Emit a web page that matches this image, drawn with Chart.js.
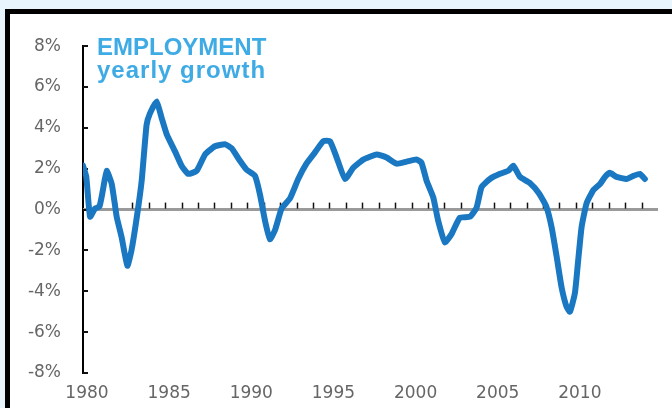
<!DOCTYPE html>
<html>
<head>
<meta charset="utf-8">
<script src="https://cdn.jsdelivr.net/npm/chart.js@4"></script>
<style>
    html, body { margin: 0; padding: 0; }
    body { width: 672px; height: 408px; background: #e9f5fc; position: relative; overflow: hidden; }
    .frame {
        position: absolute; left: 5px; top: 9px; width: 700px; height: 420px;
        border-top: 5px solid #000; border-left: 5px solid #000; background: #fff;
    }
    .chart-box { position: absolute; left: 10px; top: 14px; width: 662px; height: 394px; }
    .title {
        position: absolute; left: 97px; color: #3fabe5;
        font-family: "Liberation Sans", Arial, sans-serif; font-weight: bold; font-size: 24px; line-height: 24px;
    }
    #t1 { top: 35px; }
    #t2 { top: 58px; letter-spacing: 1px; }
</style>
</head>
<body>
<div class="frame"></div>
<div class="chart-box"><canvas id="chart"></canvas></div>
<div class="title" id="t1">EMPLOYMENT</div>
<div class="title" id="t2">yearly growth</div>

<script>
// ============ Data ============
const YEARS = [
    1980.0, 1980.2, 1980.43, 1980.73, 1981.0, 1981.2, 1981.44, 1981.75, 1982.05, 1982.35,
    1982.7, 1982.95, 1983.27, 1983.57, 1983.87, 1984.07, 1984.48, 1984.78, 1985.09, 1985.6,
    1986.0, 1986.4, 1986.92, 1987.43, 1988.03, 1988.64, 1989.05, 1989.5, 1989.96, 1990.47,
    1990.77, 1991.08, 1991.38, 1991.69, 1992.09, 1992.6, 1993.1, 1993.6, 1994.12, 1994.63,
    1995.03, 1995.44, 1995.95, 1996.45, 1997.06, 1997.87, 1998.48, 1999.09, 1999.7, 2000.3,
    2000.6, 2000.92, 2001.32, 2001.62, 2002.03, 2002.43, 2002.94, 2003.55, 2003.96, 2004.26,
    2004.77, 2005.38, 2005.89, 2006.19, 2006.6, 2007.2, 2007.75, 2008.2, 2008.52, 2008.83,
    2009.13, 2009.43, 2009.64, 2009.94, 2010.14, 2010.35, 2010.65, 2011.06, 2011.47, 2011.77,
    2012.07, 2012.48, 2013.09, 2013.5, 2013.9, 2014.2
];
const GROWTH = [
    2.15, 1.6, -0.35, 0.05, 0.15, 0.9, 1.9, 1.25, -0.35, -1.35,
    -2.75, -2.0, -0.4, 1.4, 4.15, 4.7, 5.3, 4.5, 3.7, 2.85,
    2.15, 1.75, 1.9, 2.7, 3.1, 3.2, 3.0, 2.45, 1.95, 1.65,
    0.75, -0.55, -1.45, -1.0, 0.05, 0.55, 1.5, 2.25, 2.8, 3.35,
    3.35, 2.55, 1.5, 2.05, 2.45, 2.7, 2.55, 2.25, 2.35, 2.45,
    2.3, 1.4, 0.6, -0.55, -1.6, -1.2, -0.4, -0.35, 0.1, 1.1,
    1.5, 1.75, 1.9, 2.15, 1.6, 1.3, 0.8, 0.15, -0.85, -2.3,
    -3.8, -4.75, -5.0, -4.1, -2.5, -0.85, 0.3, 0.95, 1.25, 1.6,
    1.8, 1.6, 1.5, 1.65, 1.75, 1.5
];
const X_TICKS = [1980, 1985, 1990, 1995, 2000, 2005, 2010];
const Y_TICKS = [-8, -6, -4, -2, 0, 2, 4, 6, 8];

// ============ Axis decorations ============
const axisMarks = {
    id: 'axisMarks',
    beforeDatasetsDraw(chart) {
        const { ctx, chartArea, scales: { x, y } } = chart;
        const y0 = y.getPixelForValue(0);
        ctx.save();
        // zero line
        ctx.strokeStyle = '#9a9a9a';
        ctx.lineWidth = 3;
        ctx.beginPath();
        ctx.moveTo(chartArea.left, y0);
        ctx.lineTo(chartArea.right, y0);
        ctx.stroke();
        // yearly ticks on zero line
        ctx.strokeStyle = '#111';
        ctx.lineWidth = 1.5;
        for (let yr = x.min + 1; yr < x.max; yr++) {
            const px = Math.round(x.getPixelForValue(yr)) + 0.5;
            ctx.beginPath();
            ctx.moveTo(px, y0 - 1);
            ctx.lineTo(px, y0 - 7);
            ctx.stroke();
        }
        // inner ticks on the y axis
        ctx.lineWidth = 2;
        Y_TICKS.forEach(v => {
            const py = Math.round(y.getPixelForValue(v));
            ctx.beginPath();
            ctx.moveTo(chartArea.left, py);
            ctx.lineTo(chartArea.left + 5, py);
            ctx.stroke();
        });
        ctx.restore();
    }
};

// ============ Chart ============
const ctx = document.getElementById('chart').getContext('2d');
new Chart(ctx, {
    type: 'line',
    data: {
        datasets: [{
            data: YEARS.map((yr, i) => ({ x: yr, y: GROWTH[i] })),
            borderColor: '#1a78c2',
            borderWidth: 6,
            borderJoinStyle: 'round',
            borderCapStyle: 'round',
            tension: 0.15,
            pointRadius: 0,
            fill: false
        }]
    },
    options: {
        responsive: true,
        maintainAspectRatio: false,
        animation: false,
        layout: { padding: { top: 31, right: 14, left: 0, bottom: 0 } },
        plugins: { legend: { display: false }, tooltip: { enabled: false } },
        scales: {
            x: {
                type: 'linear',
                min: 1980,
                max: 2015,
                afterBuildTicks: scale => { scale.ticks = X_TICKS.map(v => ({ value: v })); },
                afterFit: scale => { scale.height = 35; },
                grid: { display: false, drawTicks: false },
                border: { display: false },
                ticks: {
                    padding: 10,
                    labelOffset: 4,
                    maxRotation: 0,
                    autoSkip: false,
                    color: '#666',
                    font: { family: 'DejaVu Sans', size: 17 },
                    callback: v => String(v)
                }
            },
            y: {
                min: -8,
                max: 8,
                afterBuildTicks: scale => { scale.ticks = Y_TICKS.map(v => ({ value: v })); },
                afterFit: scale => { scale.width = 73; },
                grid: { display: false, drawTicks: false },
                border: { display: true, color: '#000', width: 2 },
                ticks: {
                    padding: 22,
                    color: '#666',
                    font: { family: 'DejaVu Sans', size: 17 },
                    callback: v => v + '%'
                }
            }
        }
    },
    plugins: [axisMarks]
});
</script>
</body>
</html>
